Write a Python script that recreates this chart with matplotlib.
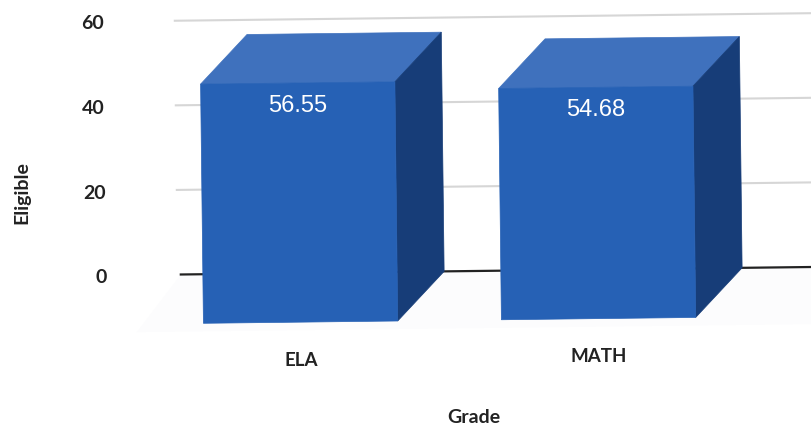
import matplotlib.pyplot as plt
from matplotlib.patches import Polygon
from matplotlib.transforms import Affine2D

# Donnees
categories = ['ELA', 'MATH']
values = [56.55, 54.68]
y_ticks = [0, 20, 40, 60]

# Parametres du faux 3D
bar_w = 0.652
depth_x = 47 / 298
depth_y = 11.6
px_x = 298
px_y = 4.23
y0_px = 427 - 275.5

plt.rcParams['font.family'] = ['Lato', 'DejaVu Sans']

fig = plt.figure(figsize=(8.12, 4.27), dpi=100)
ax = fig.add_axes([0, 0, 1, 1])
ax.set_xlim(-300 / px_x, (812 - 300) / px_x)
ax.set_ylim(-y0_px / px_y, (427 - y0_px) / px_y)
ax.axis('off')

# La page scannee est legerement tournee
rot = ax.transData + Affine2D().rotate_deg_around(180, y0_px, 0.68)

# Sol
floor_x = [-0.55, 1.8, 1.8, -0.40]
floor_y = [-13.5, -13.5, 0, 0]
ax.add_patch(Polygon(list(zip(floor_x, floor_y)), closed=True, color='#fcfcfd', lw=0,
                     transform=rot, zorder=1))

# Grille
for t in y_ticks:
    if t == 0:
        ax.plot([-0.40, 1.8], [t, t], color='#222222', lw=1.6, transform=rot, zorder=2)
    else:
        ax.plot([-0.41, 1.8], [t, t], color='#d6d6d6', lw=1.5, transform=rot, zorder=2)
    ax.text(-0.648, t - 0.3, str(t), ha='right', va='center', fontsize=14, fontweight='bold',
            color='#222222', transform=rot)

# Barres
for i, v in enumerate(values):
    l = i - bar_w / 2
    r = i + bar_w / 2
    top = v - depth_y
    bottom = -depth_y
    ax.add_patch(Polygon([(l, top), (r, top), (r + depth_x, v), (l + depth_x, v)], closed=True,
                         facecolor='#3f71bd', edgecolor='#3f71bd', lw=0.5, transform=rot, zorder=4))
    ax.add_patch(Polygon([(r, top), (r + depth_x, v), (r + depth_x, 0), (r, bottom)], closed=True,
                         facecolor='#173d78', edgecolor='#173d78', lw=0.5, transform=rot, zorder=4))
    ax.bar(i, v, width=bar_w, bottom=bottom, color='#2661b5', edgecolor='#2661b5', lw=0.5,
           transform=rot, zorder=5)
    ax.text(i, top - 5.2, '%.2f' % v, ha='center', va='center', color='white', fontsize=17,
            family='Liberation Sans', transform=rot, zorder=6)
    ax.text(i, -20.4, categories[i], ha='center', va='center', fontsize=13.5, fontweight='bold',
            color='#222222', transform=rot)

ax.set_xlim(-300 / px_x, (812 - 300) / px_x)
ax.set_ylim(-y0_px / px_y, (427 - y0_px) / px_y)

fig.text(474 / 812, 1 - 418 / 427, 'Grade', ha='center', va='center', fontsize=14,
         fontweight='bold', color='#222222')
fig.text(22 / 812, 1 - 193 / 427, 'Eligible', ha='center', va='center', rotation=90,
         fontsize=14, fontweight='bold', color='#222222')

fig.savefig('out.png', dpi=100)
